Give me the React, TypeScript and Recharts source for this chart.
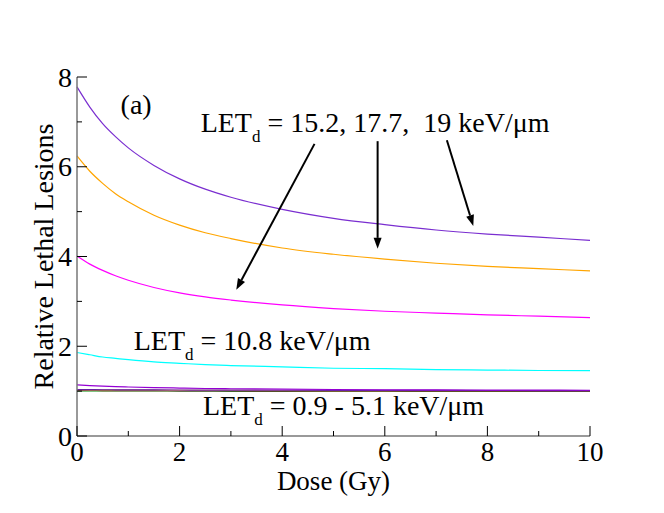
import React from 'react';
import { LineChart, Line, XAxis, YAxis, ReferenceLine, ReferenceDot } from 'recharts';

// Dose points (Gy) and relative lethal lesions
const DOSE = [0, 0.25, 0.5, 0.75, 1, 1.5, 2, 2.5, 3, 4, 5, 6, 7, 8, 9, 10];
const LET_19 = [7.78, 7.33, 6.96, 6.67, 6.42, 6.03, 5.73, 5.5, 5.32, 5.05, 4.85, 4.71, 4.59, 4.5, 4.43, 4.36];
const LET_17_7 = [6.24, 5.9, 5.63, 5.4, 5.22, 4.92, 4.7, 4.53, 4.4, 4.19, 4.05, 3.94, 3.85, 3.78, 3.73, 3.68];
const LET_15_2 = [4.01, 3.83, 3.69, 3.57, 3.47, 3.31, 3.19, 3.1, 3.03, 2.92, 2.84, 2.78, 2.74, 2.7, 2.67, 2.64];
const LET_10_8 = [1.86, 1.81, 1.76, 1.73, 1.7, 1.65, 1.62, 1.59, 1.57, 1.54, 1.51, 1.5, 1.48, 1.47, 1.46, 1.455];
const LET_VIOLET = [1.14, 1.124, 1.111, 1.1, 1.092, 1.078, 1.068, 1.059, 1.053, 1.043, 1.036, 1.031, 1.027, 1.024, 1.021, 1.019];
const LOW_INDIGO = [1.035, 1.033, 1.031, 1.03, 1.029, 1.027, 1.025, 1.023, 1.022, 1.02, 1.018, 1.016, 1.015, 1.014, 1.013, 1.012];
const LOW_TAN = [1.025, 1.024, 1.023, 1.022, 1.021, 1.019, 1.018, 1.017, 1.016, 1.014, 1.013, 1.012, 1.011, 1.01, 1.009, 1.008];
const LOW_BLACK = [1.02, 1.019, 1.018, 1.017, 1.016, 1.015, 1.013, 1.012, 1.011, 1.01, 1.009, 1.008, 1.007, 1.006, 1.006, 1.005];
const LOW_BROWN = [1.015, 1.014, 1.013, 1.012, 1.012, 1.011, 1.01, 1.009, 1.008, 1.007, 1.006, 1.005, 1.005, 1.004, 1.004, 1.003];
const LOW_GREEN = [1.005, 1.005, 1.004, 1.004, 1.004, 1.003, 1.003, 1.003, 1.002, 1.002, 1.001, 1.001, 1.001, 1.0, 1.0, 1.0];

const X_TICKS = [0, 1, 2, 3, 4, 5, 6, 7, 8, 9, 10];
const Y_TICKS = [0, 1, 2, 3, 4, 5, 6, 7, 8];

const data = DOSE.map((d, i) => ({
  dose: d,
  let19: LET_19[i],
  let177: LET_17_7[i],
  let152: LET_15_2[i],
  let108: LET_10_8[i],
  violet: LET_VIOLET[i],
  lowIndigo: LOW_INDIGO[i],
  lowTan: LOW_TAN[i],
  lowBlack: LOW_BLACK[i],
  lowBrown: LOW_BROWN[i],
  lowGreen: LOW_GREEN[i],
}));

const FONT = "'Liberation Serif', 'Times New Roman', Times, serif";
const AXIS = { stroke: '#777', strokeWidth: 1.5 };

const BottomTick = ({ x, y, payload }: any) => {
  const major = payload.value % 2 === 0;
  return (
    <g>
      <line x1={x} x2={x} y1={y} y2={y - (major ? 10 : 5)} stroke="#000" />
      {major && (
        <text x={x} y={y + 25} textAnchor="middle" fontSize={27} fontFamily={FONT} fill="#000">
          {payload.value}
        </text>
      )}
    </g>
  );
};

const TopTick = ({ x, y, payload }: any) => {
  const major = payload.value % 2 === 0;
  return <line x1={x} x2={x} y1={y} y2={y + (major ? 10 : 5)} stroke="#000" />;
};

const LeftTick = ({ x, y, payload }: any) => {
  const major = payload.value % 2 === 0;
  return (
    <g>
      <line x1={x} x2={x + (major ? 10 : 5)} y1={y} y2={y} stroke="#000" />
      {major && (
        <text x={x - 5} y={y + 9.5} textAnchor="end" fontSize={28} fontFamily={FONT} fill="#000">
          {payload.value}
        </text>
      )}
    </g>
  );
};

const RightTick = ({ x, y, payload }: any) => {
  const major = payload.value % 2 === 0;
  return <line x1={x} x2={x - (major ? 10 : 5)} y1={y} y2={y} stroke="#000" />;
};

const Arrow = ({ x1, y1, x2, y2 }: any) => {
  const ang = Math.atan2(y2 - y1, x2 - x1);
  const len = 11;
  const half = 4;
  const bx = x2 - len * Math.cos(ang);
  const by = y2 - len * Math.sin(ang);
  const px = -Math.sin(ang) * half;
  const py = Math.cos(ang) * half;
  return (
    <g>
      <line x1={x1} y1={y1} x2={bx} y2={by} stroke="#000" strokeWidth={2} />
      <polygon points={`${x2},${y2} ${bx + px},${by + py} ${bx - px},${by - py}`} fill="#000" />
    </g>
  );
};

const LetLabel = (text: string) => ({ cx, cy }: any) => (
  <text x={cx} y={cy} fontSize={28} fontFamily={FONT} fill="#000" style={{ whiteSpace: 'pre' }}>
    LET
    <tspan dy={10} fontSize={17}>d</tspan>
    <tspan dy={-10}>{text}</tspan>
  </text>
);

export default function App() {
  return (
    <LineChart
      width={656}
      height={505}
      data={data}
      margin={{ top: 69, right: 74, bottom: 37, left: 29 }}
    >
      <XAxis
        dataKey="dose"
        type="number"
        domain={[0, 10]}
        ticks={X_TICKS}
        interval={0}
        height={40}
        tickSize={0}
        tickMargin={0}
        tickLine={false}
        axisLine={AXIS}
        tick={(p: any) => <BottomTick {...p} />}
        label={{
          content: ({ viewBox }: any) => (
            <text
              x={viewBox.x + viewBox.width / 2}
              y={viewBox.y + 54}
              textAnchor="middle"
              fontSize={27}
              fontFamily={FONT}
              fill="#000"
            >
              Dose (Gy)
            </text>
          ),
        }}
      />
      <XAxis
        xAxisId="top"
        orientation="top"
        dataKey="dose"
        type="number"
        domain={[0, 10]}
        ticks={X_TICKS}
        interval={0}
        height={0}
        tickSize={0}
        tickMargin={0}
        tickLine={false}
        axisLine={AXIS}
        tick={(p: any) => <TopTick {...p} />}
      />
      <YAxis
        type="number"
        domain={[0, 8]}
        ticks={Y_TICKS}
        interval={0}
        width={40}
        tickSize={0}
        tickMargin={0}
        tickLine={false}
        axisLine={AXIS}
        tick={(p: any) => <LeftTick {...p} />}
        label={{
          content: ({ viewBox }: any) => {
            const cx = viewBox.x + viewBox.width - 24;
            const cy = viewBox.y + viewBox.height / 2;
            return (
              <text
                x={cx}
                y={cy}
                transform={`rotate(-90, ${cx}, ${cy})`}
                textAnchor="middle"
                fontSize={28}
                fontFamily={FONT}
                fill="#000"
              >
                Relative Lethal Lesions
              </text>
            );
          },
        }}
      />
      <YAxis
        yAxisId="right"
        orientation="right"
        type="number"
        domain={[0, 8]}
        ticks={Y_TICKS}
        interval={0}
        width={0}
        tickSize={0}
        tickMargin={0}
        tickLine={false}
        axisLine={AXIS}
        tick={(p: any) => <RightTick {...p} />}
      />

      {/* hidden series so the top / right frame axes share the same scale */}
      <Line xAxisId="top" yAxisId="right" dataKey="let19" stroke="none" dot={false} isAnimationActive={false} />

      <Line type="monotone" dataKey="lowGreen" stroke="#008b00" strokeWidth={1.2} dot={false} isAnimationActive={false} />
      <Line type="monotone" dataKey="lowBrown" stroke="#a52a2a" strokeWidth={1.2} dot={false} isAnimationActive={false} />
      <Line type="monotone" dataKey="lowBlack" stroke="#000000" strokeWidth={1.2} dot={false} isAnimationActive={false} />
      <Line type="monotone" dataKey="lowTan" stroke="#d2a04a" strokeWidth={1.2} dot={false} isAnimationActive={false} />
      <Line type="monotone" dataKey="lowIndigo" stroke="#6a1fa8" strokeWidth={1.2} dot={false} isAnimationActive={false} />
      <Line type="monotone" dataKey="violet" stroke="#9400d3" strokeWidth={1.2} dot={false} isAnimationActive={false} />
      <Line type="monotone" dataKey="let108" stroke="#00ffff" strokeWidth={1.2} dot={false} isAnimationActive={false} />
      <Line type="monotone" dataKey="let152" stroke="#ff00ff" strokeWidth={1.2} dot={false} isAnimationActive={false} />
      <Line type="monotone" dataKey="let177" stroke="#ffa500" strokeWidth={1.2} dot={false} isAnimationActive={false} />
      <Line type="monotone" dataKey="let19" stroke="#7a2ed0" strokeWidth={1.2} dot={false} isAnimationActive={false} />

      <ReferenceLine segment={[{ x: 4.63, y: 6.51 }, { x: 3.105, y: 3.26 }]} shape={(p: any) => <Arrow {...p} />} />
      <ReferenceLine segment={[{ x: 5.86, y: 6.57 }, { x: 5.86, y: 4.17 }]} shape={(p: any) => <Arrow {...p} />} />
      <ReferenceLine segment={[{ x: 7.21, y: 6.59 }, { x: 7.725, y: 4.68 }]} shape={(p: any) => <Arrow {...p} />} />

      <ReferenceDot
        x={0.85}
        y={7.18}
        r={0}
        shape={({ cx, cy }: any) => (
          <text x={cx} y={cy} fontSize={28} fontFamily={FONT} fill="#000">(a)</text>
        )}
      />
      <ReferenceDot x={2.41} y={6.77} r={0} shape={LetLabel(' = 15.2, 17.7,\u00a0 19 keV/\u03bcm')} />
      <ReferenceDot x={1.105} y={1.92} r={0} shape={LetLabel(' = 10.8 keV/\u03bcm')} />
      <ReferenceDot x={2.456} y={0.47} r={0} shape={LetLabel(' = 0.9 - 5.1 keV/\u03bcm')} />
    </LineChart>
  );
}
